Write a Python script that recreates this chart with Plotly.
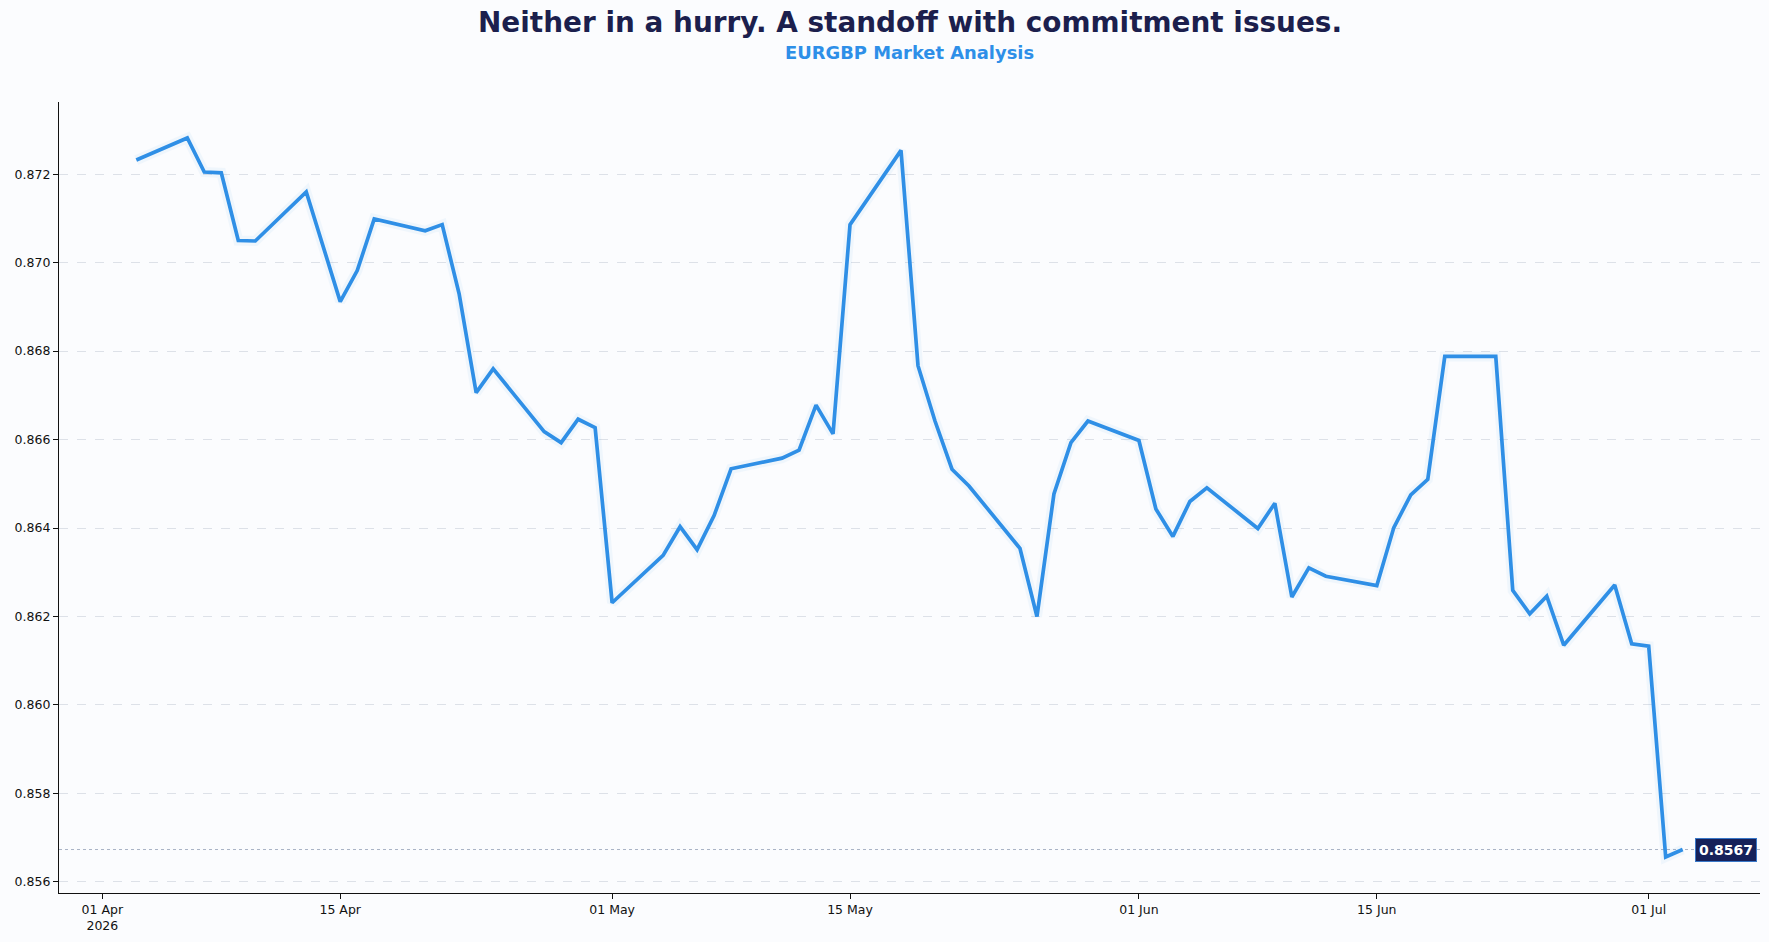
import plotly.graph_objects as go
import pandas as pd

# ---- data ----
dates = [
    "2026-04-03", "2026-04-06", "2026-04-07", "2026-04-08", "2026-04-09", "2026-04-10",
    "2026-04-13", "2026-04-15", "2026-04-16", "2026-04-17",
    "2026-04-20", "2026-04-21", "2026-04-22", "2026-04-23", "2026-04-24",
    "2026-04-27", "2026-04-28", "2026-04-29", "2026-04-30", "2026-05-01",
    "2026-05-04", "2026-05-05", "2026-05-06", "2026-05-07", "2026-05-08",
    "2026-05-11", "2026-05-12", "2026-05-13", "2026-05-14", "2026-05-15",
    "2026-05-18", "2026-05-19", "2026-05-20", "2026-05-21", "2026-05-22",
    "2026-05-25", "2026-05-26", "2026-05-27", "2026-05-28", "2026-05-29",
    "2026-06-01", "2026-06-02", "2026-06-03", "2026-06-04", "2026-06-05",
    "2026-06-08", "2026-06-09", "2026-06-10", "2026-06-11", "2026-06-12",
    "2026-06-15", "2026-06-16", "2026-06-17", "2026-06-18", "2026-06-19",
    "2026-06-22", "2026-06-23", "2026-06-24", "2026-06-25", "2026-06-26",
    "2026-06-29", "2026-06-30", "2026-07-01", "2026-07-02", "2026-07-03",
]
values = [
    0.87232, 0.87282, 0.87205, 0.87203, 0.87050, 0.87049,
    0.87160, 0.86912, 0.86982, 0.87099,
    0.87072, 0.87086, 0.86929, 0.86706, 0.86760,
    0.86618, 0.86593, 0.86646, 0.86627, 0.86231,
    0.86338, 0.86403, 0.86351, 0.86428, 0.86534,
    0.86558, 0.86576, 0.86678, 0.86613, 0.87086,
    0.87254, 0.86767, 0.86642, 0.86533, 0.86495,
    0.86354, 0.86200, 0.86477, 0.86593, 0.86642,
    0.86598, 0.86443, 0.86381, 0.86460, 0.86491,
    0.86399, 0.86456, 0.86244, 0.86310, 0.86291,
    0.86270, 0.86401, 0.86475, 0.86510, 0.86788,
    0.86788, 0.86259, 0.86206, 0.86246, 0.86135,
    0.86271, 0.86138, 0.86133, 0.85656, 0.85673,
]
tick_dates = ["2026-04-01", "2026-04-15", "2026-05-01", "2026-05-15",
              "2026-06-01", "2026-06-15", "2026-07-01"]
tick_labels = ["01 Apr<br>2026", "15 Apr", "01 May", "15 May",
               "01 Jun", "15 Jun", "01 Jul"]
title_text = "Neither in a hurry. A standoff with commitment issues."
subtitle_text = "EURGBP Market Analysis"

# ---- styles ----
FONT = "DejaVu Sans"
LINE = "#2f8fe6"
TITLE = "#1c1f4d"
SUB = "#2e8fe8"
BG = "#fbfcfe"
GRID = "#dde1e8"
LABEL_BG = "#16215a"

W, H = 1769, 942
ML, MR, MT, MB = 59, 9, 102, 47

# matplotlib-like 5% margins
d = pd.to_datetime(dates)
span = d.max() - d.min()
x_range = [d.min() - span * 0.05, d.max() + span * 0.05]
vmin, vmax = min(values), max(values)
pad = (vmax - vmin) * 0.05
y_range = [vmin - pad, vmax + pad]

fig = go.Figure()
# subtle glow
fig.add_trace(go.Scatter(x=dates, y=values, mode="lines",
                         line=dict(color=LINE, width=10), opacity=0.05,
                         hoverinfo="skip", showlegend=False))
fig.add_trace(go.Scatter(x=dates, y=values, mode="lines",
                         line=dict(color=LINE, width=3.7),
                         hoverinfo="skip", showlegend=False))

last = values[-1]
fig.add_shape(type="line", xref="paper", x0=0, x1=1, yref="y", y0=last, y1=last,
              line=dict(color="#a9b3c6", width=1, dash="dot"), layer="below")

fig.add_annotation(xref="paper", x=0.998, xanchor="right", yref="y", y=last,
                   yanchor="middle", text=f"<b>{last:.4f}</b>", showarrow=False,
                   font=dict(family=FONT, size=14, color="white"),
                   bgcolor=LABEL_BG, bordercolor="#3a78c8", borderwidth=1, borderpad=3)

plot_h = H - MT - MB
fig.add_annotation(xref="paper", x=0.5, yref="paper", y=1 + (MT - 22.5) / plot_h,
                   yanchor="middle", text=f"<b>{title_text}</b>", showarrow=False,
                   font=dict(family=FONT, size=27.9, color=TITLE))
fig.add_annotation(xref="paper", x=0.5, yref="paper", y=1 + (MT - 52) / plot_h,
                   yanchor="middle", text=f"<b>{subtitle_text}</b>", showarrow=False,
                   font=dict(family=FONT, size=17.9, color=SUB))

fig.update_layout(
    width=W, height=H,
    margin=dict(l=ML, r=MR, t=MT, b=MB, pad=0),
    paper_bgcolor=BG, plot_bgcolor=BG,
    font=dict(family=FONT, size=12.5, color="#111111"),
    showlegend=False,
    xaxis=dict(type="date", range=x_range, tickvals=tick_dates, ticktext=tick_labels,
               ticks="outside", ticklen=5, tickwidth=1, tickcolor="#111111",
               showline=True, linecolor="#111111", linewidth=1.2,
               showgrid=False, zeroline=False,
               tickfont=dict(family=FONT, size=12.5, color="#111111")),
    yaxis=dict(range=y_range, tick0=0.856, dtick=0.002, tickformat=".3f",
               ticks="outside", ticklen=5, tickwidth=1, tickcolor="#111111",
               showline=True, linecolor="#111111", linewidth=1.2,
               showgrid=True, gridcolor=GRID, gridwidth=1, griddash="dash",
               zeroline=False,
               tickfont=dict(family=FONT, size=12.5, color="#111111")),
)

fig.write_html("out.html")
